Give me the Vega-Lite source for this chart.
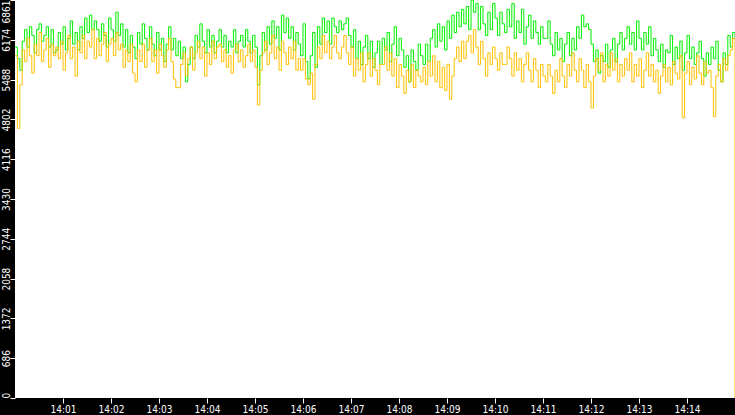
{
  "$schema": "https://vega.github.io/schema/vega-lite/v6.json",
  "width": 720,
  "height": 398,
  "autosize": "none",
  "padding": {"left": 15, "top": 0, "right": 0, "bottom": 17},
  "background": "black",
  "config": {
    "view": {"fill": "white", "stroke": null},
    "axis": {
      "domain": false,
      "grid": false,
      "tickColor": "white",
      "tickSize": 5,
      "labelColor": "white",
      "labelFont": "Liberation Sans Narrow, DejaVu Sans Condensed, sans-serif",
      "labelFontSize": 10,
      "labelOverlap": false,
      "title": null
    }
  },
  "data": {
    "values": [
      {"t":0,"g":6050,"o":5900},{"t":3,"g":5850,"o":4650},{"t":6,"g":5650,"o":5400},{"t":9,"g":6150,"o":6000},{"t":12,"g":6350,"o":5800},{"t":15,"g":6050,"o":6200},{"t":18,"g":6400,"o":5900},{"t":21,"g":6250,"o":5600},{"t":24,"g":5950,"o":6100},{"t":27,"g":6350,"o":5900},{"t":30,"g":6450,"o":6300},{"t":33,"g":6150,"o":5800},{"t":36,"g":6250,"o":6000},{"t":39,"g":6400,"o":6200},{"t":42,"g":6050,"o":5700},{"t":45,"g":6350,"o":6100},{"t":48,"g":5950,"o":5900},
      {"t":51,"g":6000,"o":6050},{"t":54,"g":6300,"o":5850},{"t":57,"g":6100,"o":6150},{"t":60,"g":6400,"o":5650},{"t":63,"g":6000,"o":5950},{"t":66,"g":6200,"o":6250},{"t":69,"g":6500,"o":5850},{"t":72,"g":6100,"o":6050},{"t":75,"g":6300,"o":5550},{"t":78,"g":6000,"o":6150},{"t":81,"g":6400,"o":5950},{"t":84,"g":6200,"o":6250},{"t":87,"g":6550,"o":5850},{"t":90,"g":6300,"o":6150},{"t":93,"g":6600,"o":6050},{"t":96,"g":6350,"o":6350},{"t":99,"g":6500,"o":5850},
      {"t":102,"g":6350,"o":6200},{"t":105,"g":6150,"o":5900},{"t":108,"g":6450,"o":6100},{"t":111,"g":6250,"o":6300},{"t":114,"g":6050,"o":5800},{"t":117,"g":6550,"o":6100},{"t":120,"g":6350,"o":6200},{"t":123,"g":6150,"o":5900},{"t":126,"g":6650,"o":6300},{"t":129,"g":6250,"o":6000},{"t":132,"g":6450,"o":6100},{"t":135,"g":6050,"o":5700},{"t":138,"g":6350,"o":6000},{"t":141,"g":5950,"o":5800},{"t":144,"g":6250,"o":6100},{"t":147,"g":6050,"o":5600},{"t":150,"g":5850,"o":5450},
      {"t":153,"g":6300,"o":6000},{"t":156,"g":6100,"o":5800},{"t":159,"g":6450,"o":6100},{"t":162,"g":6200,"o":5700},{"t":165,"g":6000,"o":6000},{"t":168,"g":6400,"o":6200},{"t":171,"g":6100,"o":5800},{"t":174,"g":5900,"o":6000},{"t":177,"g":6300,"o":5600},{"t":180,"g":6000,"o":6100},{"t":183,"g":6200,"o":5900},{"t":186,"g":5800,"o":5700},{"t":189,"g":6100,"o":6000},{"t":192,"g":6400,"o":6200},{"t":195,"g":6000,"o":5800},{"t":198,"g":6200,"o":5500},{"t":201,"g":5900,"o":5350},
      {"t":204,"g":6150,"o":5350},{"t":207,"g":5850,"o":5750},{"t":210,"g":6050,"o":5950},{"t":213,"g":5450,"o":5550},{"t":216,"g":5750,"o":5850},{"t":219,"g":6050,"o":6050},{"t":222,"g":5850,"o":5650},{"t":225,"g":6250,"o":5950},{"t":228,"g":6050,"o":6150},{"t":231,"g":6450,"o":5850},{"t":234,"g":6150,"o":6050},{"t":237,"g":5950,"o":5550},{"t":240,"g":6350,"o":5950},{"t":243,"g":6050,"o":5750},{"t":246,"g":6250,"o":6150},{"t":249,"g":5950,"o":5850},{"t":252,"g":6150,"o":6050},
      {"t":255,"g":6350,"o":6100},{"t":258,"g":6050,"o":5800},{"t":261,"g":6250,"o":6000},{"t":264,"g":5950,"o":5700},{"t":267,"g":6150,"o":5900},{"t":270,"g":6050,"o":5600},{"t":273,"g":6350,"o":6000},{"t":276,"g":5950,"o":6100},{"t":279,"g":6150,"o":5800},{"t":282,"g":6250,"o":6000},{"t":285,"g":6050,"o":5700},{"t":288,"g":6350,"o":5900},{"t":291,"g":6150,"o":6100},{"t":294,"g":5950,"o":5800},{"t":297,"g":6250,"o":6000},{"t":300,"g":6050,"o":5700},{"t":303,"g":5400,"o":5050},
      {"t":306,"g":5900,"o":5650},{"t":309,"g":6300,"o":5950},{"t":312,"g":6000,"o":6150},{"t":315,"g":6400,"o":5750},{"t":318,"g":6100,"o":5950},{"t":321,"g":6500,"o":6250},{"t":324,"g":6200,"o":5850},{"t":327,"g":6400,"o":6050},{"t":330,"g":6000,"o":5650},{"t":333,"g":6600,"o":6150},{"t":336,"g":6300,"o":5950},{"t":339,"g":6550,"o":5750},{"t":342,"g":6200,"o":6050},{"t":345,"g":6400,"o":5850},{"t":348,"g":6000,"o":6150},{"t":351,"g":6300,"o":5650},{"t":354,"g":6100,"o":5850},
      {"t":357,"g":5900,"o":5650},{"t":360,"g":6450,"o":5850},{"t":363,"g":5800,"o":5500},{"t":366,"g":5500,"o":5400},{"t":369,"g":5900,"o":5600},{"t":372,"g":6300,"o":5150},{"t":375,"g":5700,"o":5750},{"t":378,"g":6400,"o":6050},{"t":381,"g":6100,"o":5850},{"t":384,"g":6550,"o":6250},{"t":387,"g":6300,"o":5950},{"t":390,"g":6500,"o":6150},{"t":393,"g":6100,"o":5850},{"t":396,"g":6550,"o":6050},{"t":399,"g":6400,"o":6250},{"t":402,"g":6300,"o":5950},{"t":405,"g":6500,"o":5850},
      {"t":408,"g":6350,"o":6050},{"t":411,"g":6450,"o":6250},{"t":414,"g":6550,"o":5950},{"t":417,"g":6250,"o":5750},{"t":420,"g":6050,"o":6050},{"t":423,"g":6350,"o":5550},{"t":426,"g":5850,"o":5850},{"t":429,"g":6150,"o":5650},{"t":432,"g":5750,"o":5950},{"t":435,"g":6050,"o":5450},{"t":438,"g":6250,"o":5750},{"t":441,"g":5850,"o":5950},{"t":444,"g":6150,"o":5550},{"t":447,"g":5700,"o":5850},{"t":450,"g":5950,"o":5650},{"t":453,"g":6150,"o":5400},{"t":456,"g":5750,"o":5750},
      {"t":459,"g":6200,"o":5750},{"t":462,"g":6000,"o":6050},{"t":465,"g":6300,"o":5650},{"t":468,"g":5800,"o":5950},{"t":471,"g":6100,"o":5550},{"t":474,"g":6400,"o":5850},{"t":477,"g":5900,"o":5350},{"t":480,"g":6200,"o":5750},{"t":483,"g":6000,"o":5550},{"t":486,"g":5700,"o":5250},{"t":489,"g":5900,"o":5650},{"t":492,"g":5450,"o":5450},{"t":495,"g":6000,"o":5750},{"t":498,"g":5800,"o":5350},{"t":501,"g":5650,"o":5650},{"t":504,"g":6100,"o":5550},{"t":507,"g":5900,"o":5450},
      {"t":510,"g":5750,"o":5700},{"t":513,"g":6100,"o":5400},{"t":516,"g":5800,"o":5800},{"t":519,"g":6200,"o":5550},{"t":522,"g":6350,"o":5900},{"t":525,"g":6050,"o":5450},{"t":528,"g":6450,"o":5800},{"t":531,"g":6150,"o":5350},{"t":534,"g":6400,"o":5700},{"t":537,"g":6000,"o":5300},{"t":540,"g":6500,"o":5750},{"t":543,"g":6200,"o":5150},{"t":546,"g":6600,"o":5550},{"t":549,"g":6300,"o":5850},{"t":552,"g":6650,"o":6050},{"t":555,"g":6400,"o":5800},{"t":558,"g":6700,"o":6150},
      {"t":561,"g":6450,"o":5850},{"t":564,"g":6750,"o":6150},{"t":567,"g":6350,"o":6250},{"t":570,"g":6861,"o":5950},{"t":573,"g":6650,"o":6350},{"t":576,"g":6800,"o":6050},{"t":579,"g":6350,"o":5750},{"t":582,"g":6750,"o":6150},{"t":585,"g":6450,"o":5850},{"t":588,"g":6250,"o":5550},{"t":591,"g":6650,"o":5950},{"t":594,"g":6350,"o":5750},{"t":597,"g":6800,"o":6050},{"t":600,"g":6550,"o":5850},{"t":603,"g":6250,"o":5650},{"t":606,"g":6650,"o":5950},{"t":609,"g":6450,"o":5750},
      {"t":612,"g":6300,"o":5750},{"t":615,"g":6700,"o":6050},{"t":618,"g":6400,"o":5850},{"t":621,"g":6800,"o":5550},{"t":624,"g":6200,"o":5950},{"t":627,"g":6500,"o":5650},{"t":630,"g":6300,"o":5850},{"t":633,"g":6700,"o":5450},{"t":636,"g":6100,"o":5750},{"t":639,"g":6400,"o":5950},{"t":642,"g":6600,"o":5650},{"t":645,"g":6200,"o":5450},{"t":648,"g":6500,"o":5850},{"t":651,"g":6300,"o":5650},{"t":654,"g":6100,"o":5350},{"t":657,"g":6400,"o":5750},{"t":660,"g":6200,"o":5550},
      {"t":663,"g":6200,"o":5450},{"t":666,"g":6500,"o":5750},{"t":669,"g":6100,"o":5550},{"t":672,"g":5900,"o":5250},{"t":675,"g":6300,"o":5650},{"t":678,"g":6000,"o":5450},{"t":681,"g":6200,"o":5850},{"t":684,"g":5800,"o":5550},{"t":687,"g":6100,"o":5350},{"t":690,"g":6300,"o":5750},{"t":693,"g":5900,"o":5550},{"t":696,"g":6200,"o":5950},{"t":699,"g":6000,"o":5650},{"t":702,"g":6400,"o":5450},{"t":705,"g":6200,"o":5850},{"t":708,"g":6600,"o":5650},{"t":711,"g":6400,"o":5350},
      {"t":714,"g":6450,"o":5750},{"t":717,"g":6350,"o":5450},{"t":720,"g":6100,"o":5000},{"t":723,"g":5800,"o":5550},{"t":726,"g":6000,"o":5850},{"t":729,"g":5600,"o":5650},{"t":732,"g":5900,"o":5950},{"t":735,"g":5800,"o":5450},{"t":738,"g":6100,"o":5750},{"t":741,"g":5700,"o":5550},{"t":744,"g":6000,"o":5950},{"t":747,"g":6200,"o":5650},{"t":750,"g":5800,"o":5850},{"t":753,"g":6100,"o":5450},{"t":756,"g":6300,"o":5750},{"t":759,"g":6000,"o":5550},{"t":762,"g":6200,"o":5850},
      {"t":765,"g":6400,"o":5650},{"t":768,"g":6100,"o":5950},{"t":771,"g":6300,"o":5450},{"t":774,"g":6000,"o":5750},{"t":777,"g":6500,"o":5550},{"t":780,"g":6200,"o":5850},{"t":783,"g":6000,"o":5350},{"t":786,"g":6300,"o":5650},{"t":789,"g":6100,"o":5950},{"t":792,"g":6400,"o":5550},{"t":795,"g":5900,"o":5750},{"t":798,"g":6200,"o":5450},{"t":801,"g":6000,"o":5650},{"t":804,"g":5800,"o":5250},{"t":807,"g":6100,"o":5550},{"t":810,"g":5700,"o":5750},{"t":813,"g":6000,"o":5450},
      {"t":816,"g":5950,"o":5700},{"t":819,"g":6250,"o":5400},{"t":822,"g":5750,"o":5800},{"t":825,"g":6050,"o":5600},{"t":828,"g":5850,"o":5500},{"t":831,"g":6150,"o":5900},{"t":834,"g":5650,"o":4830},{"t":837,"g":5950,"o":5600},{"t":840,"g":6250,"o":5800},{"t":843,"g":5850,"o":5400},{"t":846,"g":6050,"o":5700},{"t":849,"g":5750,"o":5500},{"t":852,"g":5950,"o":5900},{"t":855,"g":6150,"o":5600},{"t":858,"g":5850,"o":5400},{"t":861,"g":5550,"o":5800},{"t":864,"g":5950,"o":5600},
      {"t":867,"g":5750,"o":5650},{"t":870,"g":6050,"o":5350},{"t":873,"g":5850,"o":4850},{"t":876,"g":6150,"o":5550},{"t":879,"g":5650,"o":5750},{"t":882,"g":5450,"o":5450},{"t":885,"g":5950,"o":5850},{"t":888,"g":5750,"o":5650},{"t":891,"g":6250,"o":5900},{"t":894,"g":6050,"o":6000},{"t":897,"g":6300,"o":6200},{"t":900,"g":6200,"o":0}
    ]
  },
  "encoding": {
    "x": {
      "field": "t",
      "type": "quantitative",
      "scale": {"domain": [0, 900], "nice": false},
      "axis": {
        "values": [60, 120, 180, 240, 300, 360, 420, 480, 540, 600, 660, 720, 780, 840],
        "tickCount": 20,
        "labelExpr": "'14:' + (datum.value < 600 ? '0' : '') + datum.value / 60",
        "labelPadding": 1,
        "labelOverlap": false
      }
    }
  },
  "layer": [
    {
      "mark": {"type": "line", "color": "#00f000", "strokeWidth": 1, "interpolate": "step-after"},
      "encoding": {
        "y": {
          "field": "g",
          "type": "quantitative",
          "scale": {"domain": [0, 6861], "nice": false},
          "axis": {
            "values": [0, 686, 1372, 2058, 2744, 3430, 4116, 4802, 5488, 6174, 6861],
            "tickCount": 20,
            "format": "d",
            "labelAngle": -90,
            "labelBaseline": "alphabetic",
            "labelPadding": 1,
            "labelOverlap": false,
            "labelAlign": {
              "condition": [
                {"test": "datum.value == 0", "value": "left"},
                {"test": "datum.value > 6800", "value": "right"}
              ],
              "value": "center"
            }
          }
        }
      }
    },
    {
      "mark": {"type": "line", "color": "#ffc000", "strokeWidth": 1, "interpolate": "step-after"},
      "encoding": {"y": {"field": "o", "type": "quantitative"}}
    }
  ]
}
